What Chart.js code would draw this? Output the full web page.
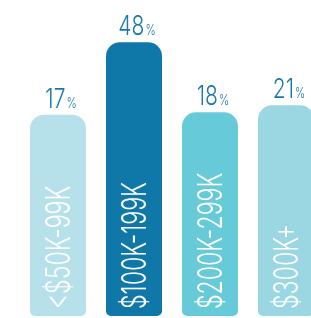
<!DOCTYPE html>
<html>
<head>
<meta charset="utf-8">
<script src="https://cdn.jsdelivr.net/npm/chart.js@4/dist/chart.umd.min.js"></script>
<style>
    html, body { margin: 0; padding: 0; background: #fff; overflow: hidden; }
    #wrap { width: 330px; height: 318px; }
</style>
</head>
<body>
<div id="wrap"><canvas id="incomeChart" width="330" height="318"></canvas></div>
<script>
// Household income brackets and share of respondents (%)
const categories = ['<$50K-99K', '$100K-199K', '$200K-299K', '$300K+'];
const shares = [17, 48, 18, 21];
const barColors = ['#b7e1ea', '#1078a8', '#67cad9', '#9ad7e2'];

// value axis is offset so the short bars still read tall, like the original
const Y_MIN = -69;
const Y_MAX = 66;

const FONT = "Inter, 'DejaVu Sans Condensed', sans-serif";
const VALUE_COLOR = '#1a79aa';

// Draws the % labels above bars and the rotated bracket names inside them
const barLabels = {
    id: 'barLabels',
    afterDatasetsDraw(chart) {
        const ctx = chart.ctx;
        const meta = chart.getDatasetMeta(0);

        meta.data.forEach((bar, i) => {
            // bracket name, reading upward (squeezed to look condensed)
            ctx.save();
            ctx.fillStyle = '#ffffff';
            ctx.font = '300 34px ' + FONT;
            ctx.textAlign = 'left';
            ctx.textBaseline = 'alphabetic';
            ctx.translate(bar.x + 12, bar.base - 7);
            ctx.rotate(-Math.PI / 2);
            ctx.scale(0.68, 1);
            ctx.fillText(categories[i], 0, 0);
            ctx.restore();

            // value above bar
            const num = String(shares[i]);
            const sx = 0.78;
            ctx.save();
            ctx.fillStyle = VALUE_COLOR;
            ctx.textBaseline = 'alphabetic';
            ctx.textAlign = 'left';
            ctx.font = '300 27px ' + FONT;
            const numW = ctx.measureText(num).width * sx;
            ctx.font = '300 14px ' + FONT;
            const pctW = ctx.measureText('%').width * sx;
            const total = numW + 1 + pctW;
            const left = bar.x + 3 - total / 2;
            const baseY = bar.y - 7;
            ctx.translate(left, baseY);
            ctx.scale(sx, 1);
            ctx.font = '300 27px ' + FONT;
            ctx.fillText(num, 0, 0);
            ctx.font = '300 14px ' + FONT;
            ctx.fillText('%', (numW + 1) / sx, 0);
            ctx.restore();
        });
    }
};

const ctx = document.getElementById('incomeChart');
new Chart(ctx, {
    type: 'bar',
    data: {
        labels: categories,
        datasets: [{
            data: shares,
            base: Y_MIN,
            backgroundColor: barColors,
            borderWidth: 0,
            borderSkipped: false,
            borderRadius: { topLeft: 14, topRight: 14, bottomLeft: 5, bottomRight: 5 },
            barPercentage: 0.737,
            categoryPercentage: 1
        }]
    },
    options: {
        responsive: false,
        maintainAspectRatio: false,
        animation: false,
        layout: {
            padding: { left: 20, right: 6, top: 0, bottom: 2 }
        },
        plugins: {
            legend: { display: false },
            tooltip: { enabled: false }
        },
        scales: {
            x: { display: false },
            y: { display: false, min: Y_MIN, max: Y_MAX }
        }
    },
    plugins: [barLabels]
});
</script>
</body>
</html>
